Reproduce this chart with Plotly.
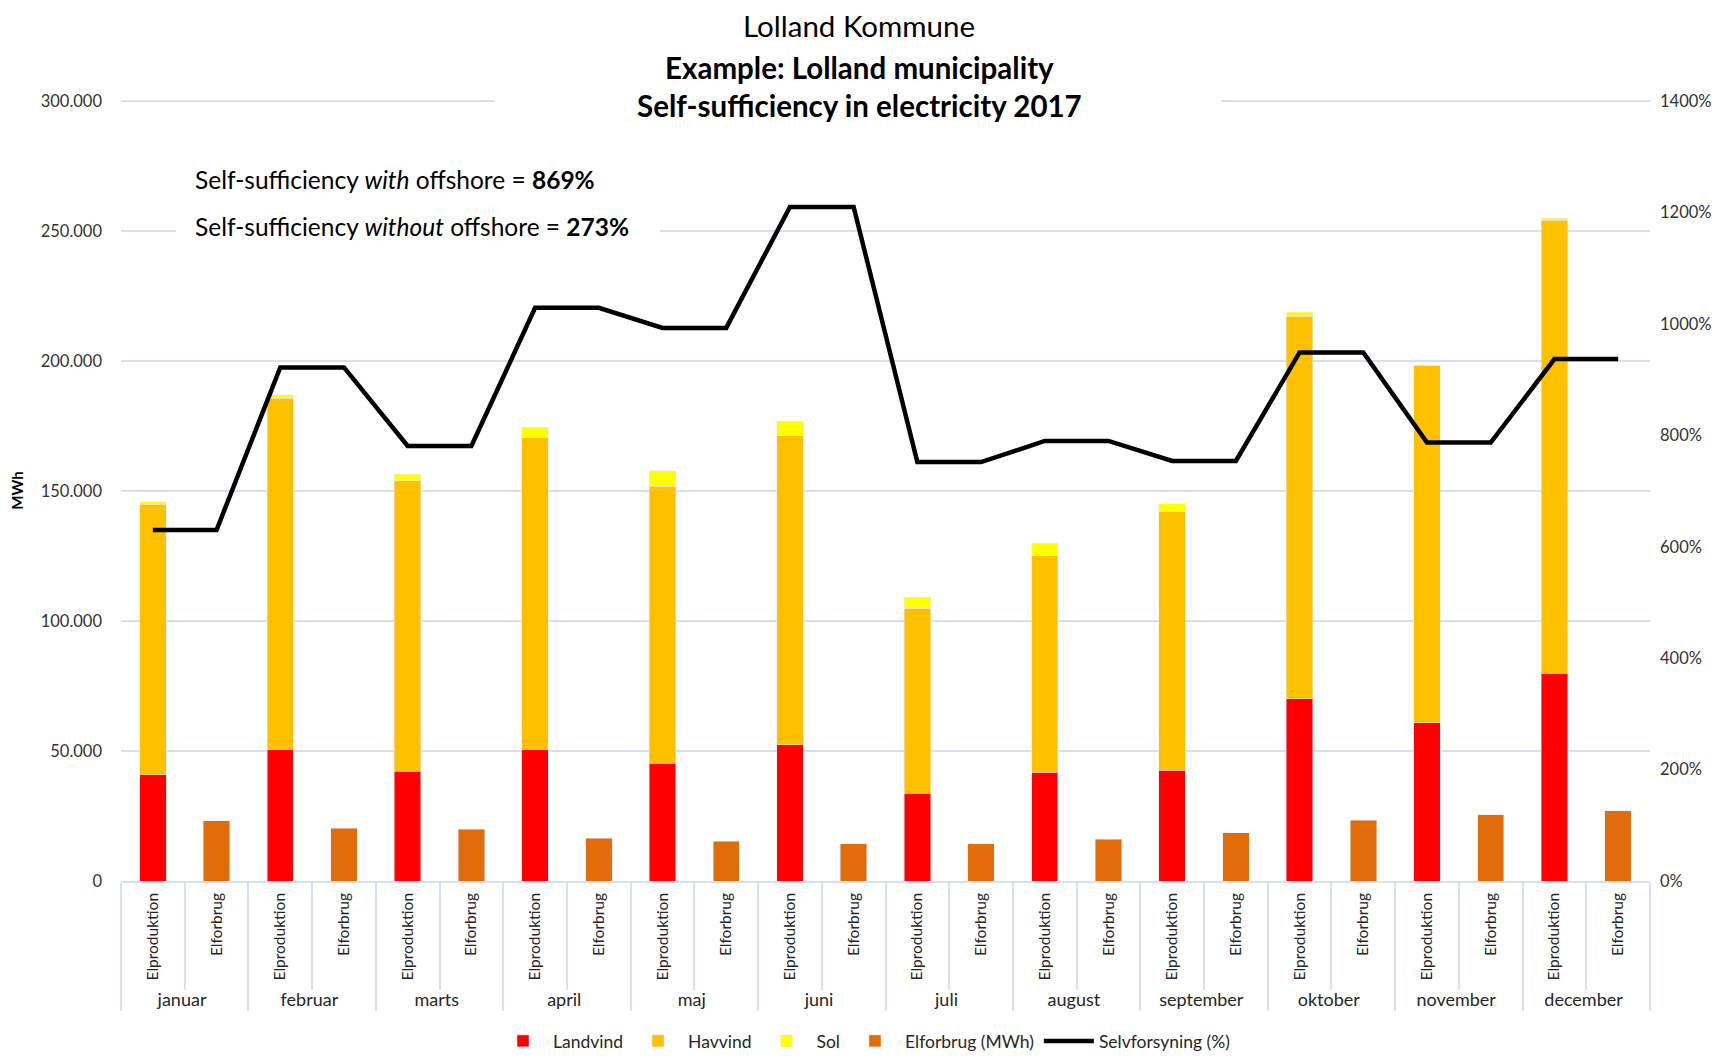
import plotly.graph_objects as go

months = ["januar", "februar", "marts", "april", "maj", "juni", "juli",
          "august", "september", "oktober", "november", "december"]
sub_prod = "Elproduktion"
sub_use = "Elforbrug"

landvind = [40800, 50400, 42300, 50400, 45300, 52500, 33800, 41900, 42700, 70200, 60900, 80000]
havvind = [104200, 135400, 111650, 120100, 106600, 118800, 71100, 83300, 99400, 147100, 137300, 174200]
sol = [900, 1300, 2550, 4100, 5900, 5500, 4200, 4700, 3000, 1500, 300, 800]
elforbrug = [23200, 20300, 20000, 16500, 15200, 14400, 14400, 16100, 18600, 23300, 25400, 27100]
selvforsyning = [630, 922, 781, 1029, 993, 1210, 752, 790, 754, 949, 787, 937]

left_ticks = [0, 50000, 100000, 150000, 200000, 250000, 300000]
right_ticks = [0, 200, 400, 600, 800, 1000, 1200, 1400]
right_labels = [f"{v}%" for v in right_ticks]

FONT = "Lato"
GRID = "#D6E0F0"

# a little head-room so the 300.000 gridline is drawn inside the plot
LEFT_MAX = 300000
RIGHT_MAX = 1400
HEAD = 1.0015

# page body has an 8px margin; figure coordinates are page coordinates minus 8
OFF = 8
W, H = 1725 - 2 * OFF, 1060 - 2 * OFF
L, R, B = 121 - OFF, 1650 - OFF, 881 - OFF
T = round(B - (780 * HEAD))
PW, PH = R - L, B - T

def px(x):
    return (x - OFF - L) / PW

def py(y):
    return (B - (y - OFF)) / PH

month_labels = [f"<span style='font-size:18px'>{m}</span>" for m in months]
x_prod = [month_labels, [sub_prod] * len(months)]
x_use = [month_labels, [sub_use] * len(months)]

line_x0, line_x1, line_y = [], [], []
for m, v in zip(month_labels, selvforsyning):
    line_x0 += [m, m]
    line_x1 += [sub_prod, sub_use]
    line_y += [v, v]

fig = go.Figure()
fig.add_trace(go.Bar(x=x_prod, y=landvind, name="Landvind", marker_color="#FF0000"))
fig.add_trace(go.Bar(x=x_prod, y=havvind, name="Havvind", marker_color="#FFC000"))
fig.add_trace(go.Bar(x=x_prod, y=sol, name="Sol", marker_color="#FFFF00"))
fig.add_trace(go.Bar(x=x_use, y=elforbrug, name="Elforbrug (MWh)", marker_color="#E36C0A"))
fig.add_trace(go.Scatter(x=[line_x0, line_x1], y=line_y, name="Selvforsyning (%)",
                         mode="lines", line=dict(color="#000000", width=4.5), yaxis="y2"))

fig.update_layout(
    width=W, height=H,
    barmode="stack", bargap=0.585,
    plot_bgcolor="white", paper_bgcolor="white",
    separators=",.",
    font=dict(family=FONT, size=16, color="#262626"),
    margin=dict(l=L, r=W - R, t=T, b=H - B, autoexpand=False),
    showlegend=True,
    legend=dict(orientation="h", x=px(864), xanchor="center", y=py(1041), yanchor="middle",
                font=dict(size=17.5, family=FONT, color="#262626"), traceorder="normal",
                itemwidth=50),
    xaxis=dict(type="multicategory", tickangle=-90, ticks="outside", ticklen=107,
               tickcolor=GRID, tickwidth=1.5, showline=True, linecolor=GRID, linewidth=1.5,
               showdividers=True, dividercolor=GRID, dividerwidth=1.5, automargin=False,
               ticklabelstandoff=4,
               tickfont=dict(size=15.5, family=FONT, color="#262626"), showgrid=False),
    yaxis=dict(range=[0, LEFT_MAX * HEAD], tickvals=left_ticks, tickformat=",.0f", automargin=False,
               showgrid=True, gridcolor=GRID, gridwidth=1.5, zeroline=False,
               ticks="", tickfont=dict(size=16.5, color="#333333"), ticklabelstandoff=18,
               title=dict(text="<b>MWh</b>", font=dict(size=15, color="#000000"), standoff=14)),
    yaxis2=dict(range=[0, RIGHT_MAX * HEAD], tickvals=right_ticks, ticktext=right_labels, overlaying="y",
                side="right", showgrid=False, zeroline=False, ticks="", automargin=False,
                tickfont=dict(size=16.5, color="#333333"), ticklabelstandoff=9),
)

# white boxes interrupting gridlines behind the title and the text box
fig.add_shape(type="rect", xref="paper", yref="paper", x0=px(495), x1=px(1221),
              y0=py(106), y1=py(96), fillcolor="white", line_width=0, layer="above")
fig.add_shape(type="rect", xref="paper", yref="paper", x0=px(176), x1=px(660),
              y0=py(236), y1=py(226), fillcolor="white", line_width=0, layer="above")

fig.add_annotation(text="Lolland Kommune", xref="paper", yref="paper", x=px(859), y=py(25.5),
                   xanchor="center", yanchor="middle", showarrow=False, borderpad=0,
                   font=dict(size=29.5, family=FONT, color="#000000"))
fig.add_annotation(text="<b>Example: Lolland municipality<br>Self-sufficiency in electricity 2017</b>",
                   xref="paper", yref="paper", x=px(859), y=py(87), xanchor="center", yanchor="middle",
                   showarrow=False,
                   font=dict(size=29.5, family=FONT, color="#000000"))
fig.add_annotation(text="Self-sufficiency <i>with</i> offshore = <b>869%</b>",
                   xref="paper", yref="paper", x=px(193), y=py(179),
                   xanchor="left", yanchor="middle", showarrow=False,
                   font=dict(size=24.5, family=FONT, color="#000000"))
fig.add_annotation(text="Self-sufficiency <i>without</i> offshore = <b>273%</b>",
                   xref="paper", yref="paper", x=px(193), y=py(226),
                   xanchor="left", yanchor="middle", showarrow=False,
                   font=dict(size=24.5, family=FONT, color="#000000"))

fig.write_html("out.html")
